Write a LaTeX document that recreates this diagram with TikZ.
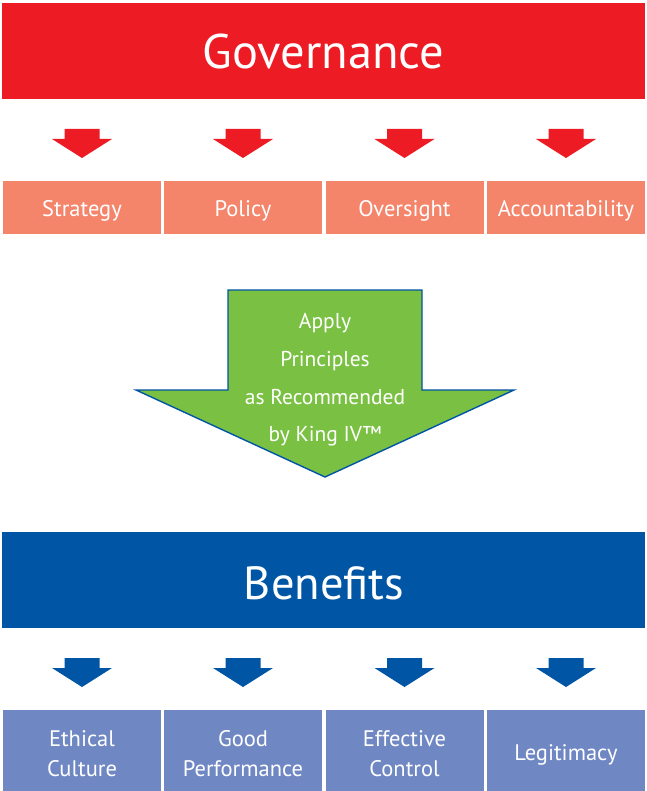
\documentclass[tikz,border=0pt]{standalone}
\usepackage{fontspec}
\setmainfont{PT Sans}
\definecolor{govred}{HTML}{ED1C24}
\definecolor{salmon}{HTML}{F4846A}
\definecolor{kinggreen}{HTML}{7AC143}
\definecolor{benblue}{HTML}{0055A5}
\definecolor{periwinkle}{HTML}{6F87C3}
\tikzset{
  banner/.style={fill=#1, draw=none, minimum width=643pt, minimum height=96pt, inner sep=0pt},
  bannertext/.style={text=white, anchor=base, inner sep=0pt, font=\fontsize{#1}{52}\selectfont},
  itembox/.style={fill=#1, draw=none, minimum width=158pt, inner sep=0pt},
  itemtext/.style={text=white, anchor=base, inner sep=0pt, font=\fontsize{22.5}{26}\selectfont},
  greentext/.style={text=white, anchor=base, inner sep=0pt, font=\fontsize{21.5}{24}\selectfont},
  smallarrow/.pic={\fill[#1] (-17.5,0) -- (17.5,0) -- (17.5,10) -- (30,10) -- (0,29) -- (-30,10) -- (-17.5,10) -- cycle;}
}
\begin{document}
\begin{tikzpicture}[x=1pt,y=-1pt]
\useasboundingbox[fill=white] (0,0) rectangle (646,791);
% Governance banner
\node[banner=govred] (gov) at (323.5,51) {};
\node[bannertext=48.5] (govt) at (323.5,68.5) {Governance};
% red arrows
\foreach \x [count=\i] in {82,243,404.5,566} {
  \coordinate (ra\i) at (\x,129);
  \pic at (ra\i) {smallarrow=govred};
}
% salmon boxes
\node[itembox=salmon, minimum height=53pt] (s1) at (82,207.5) {};
\node[itembox=salmon, minimum height=53pt] (s2) at (243,207.5) {};
\node[itembox=salmon, minimum height=53pt] (s3) at (404.5,207.5) {};
\node[itembox=salmon, minimum height=53pt] (s4) at (566,207.5) {};
\node[itemtext] (s1t) at (82,216.7) {Strategy};
\node[itemtext] (s2t) at (243,216.7) {Policy};
\node[itemtext] (s3t) at (404.5,216.7) {Oversight};
\node[itemtext] (s4t) at (566,216.7) {Accountability};
% green arrow
\fill[kinggreen, draw=benblue, line width=1.4pt, line join=miter]
  (228,290) -- (422,290) -- (422,390) -- (514,390) -- (325,477) -- (136,390) -- (228,390) -- cycle;
\node[greentext] (g1) at (325,328.8) {Apply};
\node[greentext] (g2) at (325,366) {Principles};
\node[greentext] (g3) at (325,404.3) {as Recommended};
\node[greentext] (g4) at (325,441.5) {by King IV™};
% Benefits banner
\node[banner=benblue] (ben) at (323.5,580) {};
\node[bannertext=46.5] (bent) at (324,599) {Benefits};
% blue arrows
\foreach \x [count=\i] in {82,243,404.5,566} {
  \coordinate (ba\i) at (\x,658);
  \pic at (ba\i) {smallarrow=benblue};
}
% bottom boxes
\node[itembox=periwinkle, minimum height=81pt] (b1) at (82,750.5) {};
\node[itembox=periwinkle, minimum height=81pt] (b2) at (243,750.5) {};
\node[itembox=periwinkle, minimum height=81pt] (b3) at (404.5,750.5) {};
\node[itembox=periwinkle, minimum height=81pt] (b4) at (566,750.5) {};
\node[itemtext] (b1a) at (82,746.7) {Ethical};
\node[itemtext] (b1b) at (82,776) {Culture};
\node[itemtext] (b2a) at (243,746.7) {Good};
\node[itemtext] (b2b) at (243,776) {Performance};
\node[itemtext] (b3a) at (404.5,746.7) {Effective};
\node[itemtext] (b3b) at (404.5,776) {Control};
\node[itemtext] (b4a) at (566,760.7) {Legitimacy};
\end{tikzpicture}
\end{document}
